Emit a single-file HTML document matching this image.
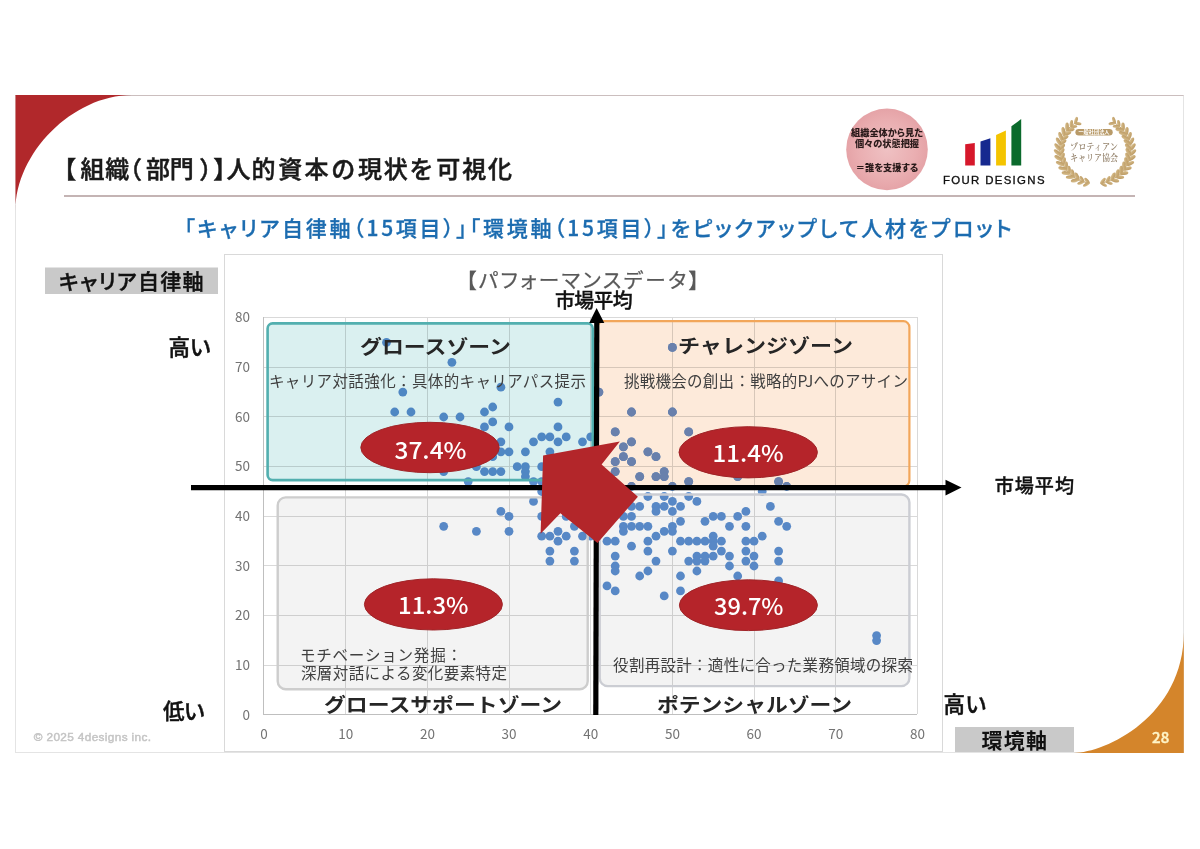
<!DOCTYPE html>
<html lang="ja"><head><meta charset="utf-8">
<style>
html,body{margin:0;padding:0;background:#fff;}
body{width:1200px;height:849px;overflow:hidden;position:relative;}
svg{position:absolute;left:0;top:0;}
text{font-family:"Liberation Sans","Noto Sans CJK JP",sans-serif;}
.cjk{font-family:"Noto Sans CJK JP",sans-serif;font-feature-settings:"palt" 1;}
.nopalt{font-feature-settings:normal !important;}
.mul{mix-blend-mode:multiply;}
.tick text{font-family:"Noto Sans CJK JP",sans-serif;}
.lat{font-family:"Liberation Sans",sans-serif;}
.serif{font-family:"Noto Serif CJK JP",serif;}
</style></head>
<body>
<svg width="1200" height="849" viewBox="0 0 1200 849">
  <!-- slide -->
  <rect x="15.5" y="95.5" width="1168" height="657" fill="#fff" stroke="#e4e4e4" stroke-width="1"/>
  <line x1="15.5" y1="95.5" x2="1183.5" y2="95.5" stroke="#cbbebe" stroke-width="1.2"/>
  <path d="M15.5,95 L131.8,95 C72.3,95.3 15.5,153.3 15.5,210.4 Z" fill="#b1282b"/>
  <path d="M1183.8,632.3 C1183.8,716.4 1105.3,752.9 1073.9,752.9 L1183.8,752.9 Z" fill="#d4852b"/>
  <text id="t_pg" class="cjk" x="1152.00" y="743.00" font-size="15.00" font-weight="500" fill="#fff5c8" textLength="17.20" lengthAdjust="spacing" stroke="#fff5c8" stroke-width="0.4">28</text>

  <!-- title -->
  <text id="t_title" class="cjk nopalt" x="52.34 80.52 105.20 117.98 146.04 169.76 199.22 213.28 226.58 251.38 278.22 304.58 331.20 357.90 383.78 409.46 436.30 462.14 488.02" y="178" font-size="24" font-weight="500" fill="#1a1a1a" stroke="#1a1a1a" stroke-width="0.5">【組織（部門）】人的資本の現状を可視化</text>
  <line x1="64" y1="196" x2="1135" y2="196" stroke="#c4b4b4" stroke-width="2"/>

  <!-- header logos -->
  <defs>
    <radialGradient id="pk" cx="50%" cy="50%" r="50%">
      <stop offset="0" stop-color="#efc1c3"/>
      <stop offset="0.7" stop-color="#eaaeb1"/>
      <stop offset="1" stop-color="#e5a3a7"/>
    </radialGradient>
    <linearGradient id="gold" x1="0" y1="0" x2="0" y2="1">
      <stop offset="0" stop-color="#d8bf90"/>
      <stop offset="0.5" stop-color="#c9ab76"/>
      <stop offset="1" stop-color="#bd9c66"/>
    </linearGradient>
  </defs>
  <circle cx="887" cy="149.4" r="40.8" fill="url(#pk)"/>
  <g class="cjk" font-size="9.2" font-weight="900" fill="#2a1a1a" text-anchor="middle">
    <text x="887" y="135.6">組織全体から見た</text>
    <text x="887" y="146.8">個々の状態把握</text>
    <text x="887" y="171">＝誰を支援する</text>
  </g>
  <polygon points="965.2,144.3 974.8,143.1 974.8,165.6 965.2,165.6" fill="#d6182b"/>
  <polygon points="980.5,141.4 990.4,138.3 990.4,165.6 980.5,165.6" fill="#16298f"/>
  <polygon points="996.1,135.1 1005.9,130.6 1005.9,165.6 996.1,165.6" fill="#f4c400"/>
  <polygon points="1011.4,126.3 1021.2,119.1 1021.2,165.6 1011.4,165.6" fill="#0b6a2c"/>
  <text x="943" y="184.3" font-size="11.4" fill="#111" stroke="#111" stroke-width="0.35" textLength="101.5" lengthAdjust="spacing">FOUR DESIGNS</text>
  <g fill="url(#gold)">
<polyline points="1075.1,123.1 1073.4,124.3 1071.8,125.5 1070.3,126.8 1068.8,128.2 1067.4,129.7 1066.1,131.3 1065.0,132.9 1063.9,134.6 1062.9,136.3 1062.1,138.1 1061.4,140.0 1060.7,141.8 1060.3,143.8 1059.9,145.7 1059.6,147.6 1059.5,149.6 1059.5,151.5 1059.6,153.5 1059.9,155.4 1060.3,157.4 1060.8,159.3 1061.4,161.1 1062.1,163.0 1063.0,164.8 1064.0,166.5 1065.0,168.2 1066.2,169.8 1067.5,171.4 1068.9,172.8 1070.3,174.2 1071.9,175.6 1073.5,176.8 1075.3,177.9 1077.0,179.0 1078.9,179.9 1080.8,180.7 1082.7,181.5 1084.7,182.1 1086.8,182.6 1088.8,183.0" fill="none" stroke="#c2a26c" stroke-width="1"/>
<ellipse cx="1075.1" cy="123.1" rx="3.7" ry="1.6" transform="rotate(8.5 1075.1 123.1) translate(2.8 0)"/>
<ellipse cx="1075.1" cy="123.1" rx="3.7" ry="1.6" transform="rotate(-71.5 1075.1 123.1) translate(2.8 0)"/>
<ellipse cx="1070.8" cy="126.4" rx="3.7" ry="1.6" transform="rotate(-0.4 1070.8 126.4) translate(2.8 0)"/>
<ellipse cx="1070.8" cy="126.4" rx="3.7" ry="1.6" transform="rotate(-80.4 1070.8 126.4) translate(2.8 0)"/>
<ellipse cx="1067.0" cy="130.2" rx="4.4" ry="1.9" transform="rotate(-9.5 1067.0 130.2) translate(3.3 0)"/>
<ellipse cx="1067.0" cy="130.2" rx="4.4" ry="1.9" transform="rotate(-89.5 1067.0 130.2) translate(3.3 0)"/>
<ellipse cx="1063.9" cy="134.6" rx="4.4" ry="1.9" transform="rotate(-18.8 1063.9 134.6) translate(3.3 0)"/>
<ellipse cx="1063.9" cy="134.6" rx="4.4" ry="1.9" transform="rotate(-98.8 1063.9 134.6) translate(3.3 0)"/>
<ellipse cx="1061.6" cy="139.4" rx="4.4" ry="1.9" transform="rotate(-28.3 1061.6 139.4) translate(3.3 0)"/>
<ellipse cx="1061.6" cy="139.4" rx="4.4" ry="1.9" transform="rotate(-108.3 1061.6 139.4) translate(3.3 0)"/>
<ellipse cx="1060.1" cy="144.4" rx="4.4" ry="1.9" transform="rotate(-37.9 1060.1 144.4) translate(3.3 0)"/>
<ellipse cx="1060.1" cy="144.4" rx="4.4" ry="1.9" transform="rotate(-117.9 1060.1 144.4) translate(3.3 0)"/>
<ellipse cx="1059.5" cy="149.6" rx="4.4" ry="1.9" transform="rotate(-47.7 1059.5 149.6) translate(3.3 0)"/>
<ellipse cx="1059.5" cy="149.6" rx="4.4" ry="1.9" transform="rotate(-127.7 1059.5 149.6) translate(3.3 0)"/>
<ellipse cx="1059.8" cy="154.8" rx="4.4" ry="1.9" transform="rotate(-57.4 1059.8 154.8) translate(3.3 0)"/>
<ellipse cx="1059.8" cy="154.8" rx="4.4" ry="1.9" transform="rotate(-137.4 1059.8 154.8) translate(3.3 0)"/>
<ellipse cx="1061.0" cy="159.9" rx="4.4" ry="1.9" transform="rotate(-67.1 1061.0 159.9) translate(3.3 0)"/>
<ellipse cx="1061.0" cy="159.9" rx="4.4" ry="1.9" transform="rotate(-147.1 1061.0 159.9) translate(3.3 0)"/>
<ellipse cx="1063.0" cy="164.8" rx="4.4" ry="1.9" transform="rotate(-76.7 1063.0 164.8) translate(3.3 0)"/>
<ellipse cx="1063.0" cy="164.8" rx="4.4" ry="1.9" transform="rotate(-156.7 1063.0 164.8) translate(3.3 0)"/>
<ellipse cx="1065.8" cy="169.3" rx="4.4" ry="1.9" transform="rotate(-86.1 1065.8 169.3) translate(3.3 0)"/>
<ellipse cx="1065.8" cy="169.3" rx="4.4" ry="1.9" transform="rotate(-166.1 1065.8 169.3) translate(3.3 0)"/>
<ellipse cx="1069.3" cy="173.3" rx="4.4" ry="1.9" transform="rotate(-95.3 1069.3 173.3) translate(3.3 0)"/>
<ellipse cx="1069.3" cy="173.3" rx="4.4" ry="1.9" transform="rotate(-175.3 1069.3 173.3) translate(3.3 0)"/>
<ellipse cx="1073.5" cy="176.8" rx="4.4" ry="1.9" transform="rotate(-104.2 1073.5 176.8) translate(3.3 0)"/>
<ellipse cx="1073.5" cy="176.8" rx="4.4" ry="1.9" transform="rotate(-184.2 1073.5 176.8) translate(3.3 0)"/>
<ellipse cx="1078.3" cy="179.6" rx="4.4" ry="1.9" transform="rotate(-113.0 1078.3 179.6) translate(3.3 0)"/>
<ellipse cx="1078.3" cy="179.6" rx="4.4" ry="1.9" transform="rotate(-193.0 1078.3 179.6) translate(3.3 0)"/>
<ellipse cx="1083.4" cy="181.7" rx="3.7" ry="1.6" transform="rotate(-121.6 1083.4 181.7) translate(2.8 0)"/>
<ellipse cx="1083.4" cy="181.7" rx="3.7" ry="1.6" transform="rotate(-201.6 1083.4 181.7) translate(2.8 0)"/>
<ellipse cx="1088.8" cy="183.0" rx="3.7" ry="1.6" transform="rotate(-130.2 1088.8 183.0) translate(2.8 0)"/>
<ellipse cx="1088.8" cy="183.0" rx="3.7" ry="1.6" transform="rotate(-210.2 1088.8 183.0) translate(2.8 0)"/>
<polyline points="1114.9,123.1 1116.6,124.3 1118.2,125.5 1119.7,126.8 1121.2,128.2 1122.6,129.7 1123.9,131.3 1125.0,132.9 1126.1,134.6 1127.1,136.3 1127.9,138.1 1128.6,140.0 1129.3,141.8 1129.7,143.8 1130.1,145.7 1130.4,147.6 1130.5,149.6 1130.5,151.5 1130.4,153.5 1130.1,155.4 1129.7,157.4 1129.2,159.3 1128.6,161.1 1127.9,163.0 1127.0,164.8 1126.0,166.5 1125.0,168.2 1123.8,169.8 1122.5,171.4 1121.1,172.8 1119.7,174.2 1118.1,175.6 1116.5,176.8 1114.7,177.9 1113.0,179.0 1111.1,179.9 1109.2,180.7 1107.3,181.5 1105.3,182.1 1103.2,182.6 1101.2,183.0" fill="none" stroke="#c2a26c" stroke-width="1"/>
<ellipse cx="1114.9" cy="123.1" rx="3.7" ry="1.6" transform="rotate(-108.5 1114.9 123.1) translate(2.8 0)"/>
<ellipse cx="1114.9" cy="123.1" rx="3.7" ry="1.6" transform="rotate(-188.5 1114.9 123.1) translate(2.8 0)"/>
<ellipse cx="1119.2" cy="126.4" rx="3.7" ry="1.6" transform="rotate(-99.6 1119.2 126.4) translate(2.8 0)"/>
<ellipse cx="1119.2" cy="126.4" rx="3.7" ry="1.6" transform="rotate(-179.6 1119.2 126.4) translate(2.8 0)"/>
<ellipse cx="1123.0" cy="130.2" rx="4.4" ry="1.9" transform="rotate(-90.5 1123.0 130.2) translate(3.3 0)"/>
<ellipse cx="1123.0" cy="130.2" rx="4.4" ry="1.9" transform="rotate(-170.5 1123.0 130.2) translate(3.3 0)"/>
<ellipse cx="1126.1" cy="134.6" rx="4.4" ry="1.9" transform="rotate(-81.2 1126.1 134.6) translate(3.3 0)"/>
<ellipse cx="1126.1" cy="134.6" rx="4.4" ry="1.9" transform="rotate(-161.2 1126.1 134.6) translate(3.3 0)"/>
<ellipse cx="1128.4" cy="139.4" rx="4.4" ry="1.9" transform="rotate(-71.7 1128.4 139.4) translate(3.3 0)"/>
<ellipse cx="1128.4" cy="139.4" rx="4.4" ry="1.9" transform="rotate(-151.7 1128.4 139.4) translate(3.3 0)"/>
<ellipse cx="1129.9" cy="144.4" rx="4.4" ry="1.9" transform="rotate(-62.1 1129.9 144.4) translate(3.3 0)"/>
<ellipse cx="1129.9" cy="144.4" rx="4.4" ry="1.9" transform="rotate(-142.1 1129.9 144.4) translate(3.3 0)"/>
<ellipse cx="1130.5" cy="149.6" rx="4.4" ry="1.9" transform="rotate(-52.3 1130.5 149.6) translate(3.3 0)"/>
<ellipse cx="1130.5" cy="149.6" rx="4.4" ry="1.9" transform="rotate(-132.3 1130.5 149.6) translate(3.3 0)"/>
<ellipse cx="1130.2" cy="154.8" rx="4.4" ry="1.9" transform="rotate(-42.6 1130.2 154.8) translate(3.3 0)"/>
<ellipse cx="1130.2" cy="154.8" rx="4.4" ry="1.9" transform="rotate(-122.6 1130.2 154.8) translate(3.3 0)"/>
<ellipse cx="1129.0" cy="159.9" rx="4.4" ry="1.9" transform="rotate(-32.9 1129.0 159.9) translate(3.3 0)"/>
<ellipse cx="1129.0" cy="159.9" rx="4.4" ry="1.9" transform="rotate(-112.9 1129.0 159.9) translate(3.3 0)"/>
<ellipse cx="1127.0" cy="164.8" rx="4.4" ry="1.9" transform="rotate(-23.3 1127.0 164.8) translate(3.3 0)"/>
<ellipse cx="1127.0" cy="164.8" rx="4.4" ry="1.9" transform="rotate(-103.3 1127.0 164.8) translate(3.3 0)"/>
<ellipse cx="1124.2" cy="169.3" rx="4.4" ry="1.9" transform="rotate(-13.9 1124.2 169.3) translate(3.3 0)"/>
<ellipse cx="1124.2" cy="169.3" rx="4.4" ry="1.9" transform="rotate(-93.9 1124.2 169.3) translate(3.3 0)"/>
<ellipse cx="1120.7" cy="173.3" rx="4.4" ry="1.9" transform="rotate(-4.7 1120.7 173.3) translate(3.3 0)"/>
<ellipse cx="1120.7" cy="173.3" rx="4.4" ry="1.9" transform="rotate(-84.7 1120.7 173.3) translate(3.3 0)"/>
<ellipse cx="1116.5" cy="176.8" rx="4.4" ry="1.9" transform="rotate(4.2 1116.5 176.8) translate(3.3 0)"/>
<ellipse cx="1116.5" cy="176.8" rx="4.4" ry="1.9" transform="rotate(-75.8 1116.5 176.8) translate(3.3 0)"/>
<ellipse cx="1111.7" cy="179.6" rx="4.4" ry="1.9" transform="rotate(13.0 1111.7 179.6) translate(3.3 0)"/>
<ellipse cx="1111.7" cy="179.6" rx="4.4" ry="1.9" transform="rotate(-67.0 1111.7 179.6) translate(3.3 0)"/>
<ellipse cx="1106.6" cy="181.7" rx="3.7" ry="1.6" transform="rotate(21.6 1106.6 181.7) translate(2.8 0)"/>
<ellipse cx="1106.6" cy="181.7" rx="3.7" ry="1.6" transform="rotate(-58.4 1106.6 181.7) translate(2.8 0)"/>
<ellipse cx="1101.2" cy="183.0" rx="3.7" ry="1.6" transform="rotate(30.2 1101.2 183.0) translate(2.8 0)"/>
<ellipse cx="1101.2" cy="183.0" rx="3.7" ry="1.6" transform="rotate(-49.8 1101.2 183.0) translate(2.8 0)"/>
  </g>
  <rect x="1075.4" y="128.9" width="37.3" height="6.6" rx="3.3" fill="#b89a68"/>
  <text class="cjk" x="1094" y="134.3" font-size="5.2" fill="#fff" text-anchor="middle" font-weight="700">一般社団法人</text>
  <g class="serif" font-size="8.8" fill="#978670" text-anchor="middle" font-weight="600">
    <text class="serif" x="1094" y="149.6" textLength="48" lengthAdjust="spacingAndGlyphs">プロティアン</text>
    <text class="serif" x="1094" y="161.3" textLength="48" lengthAdjust="spacingAndGlyphs">キャリア協会</text>
  </g>

  <!-- subtitle -->
  <text id="t_sub" class="cjk" x="184.30" y="236.30" font-size="21.00" font-weight="500" fill="#1c6cb0" textLength="827.30" lengthAdjust="spacing" stroke="#1c6cb0" stroke-width="0.3">「キャリア自律軸（15項目）」「環境軸（15項目）」をピックアップして人材をプロット</text>

  <!-- chart frame -->
  <rect x="224.5" y="254.5" width="718" height="497" fill="#fff" stroke="#d9d9d9" stroke-width="1"/>
  <text id="t_ctitle" class="cjk" x="466.00" y="288.05" font-size="20.62" font-weight="400" fill="#595959" textLength="233.00" lengthAdjust="spacing" stroke="#595959" stroke-width="0.25">【パフォーマンスデータ】</text>

  <g stroke="#d9d9d9" stroke-width="1">
<line x1="345.5" y1="317" x2="345.5" y2="714"/>
<line x1="427.5" y1="317" x2="427.5" y2="714"/>
<line x1="509.5" y1="317" x2="509.5" y2="714"/>
<line x1="590.5" y1="317" x2="590.5" y2="714"/>
<line x1="672.5" y1="317" x2="672.5" y2="714"/>
<line x1="754.5" y1="317" x2="754.5" y2="714"/>
<line x1="835.5" y1="317" x2="835.5" y2="714"/>
<line x1="917.5" y1="317" x2="917.5" y2="714"/>
<line x1="264" y1="665.5" x2="917" y2="665.5"/>
<line x1="264" y1="615.5" x2="917" y2="615.5"/>
<line x1="264" y1="565.5" x2="917" y2="565.5"/>
<line x1="264" y1="516.5" x2="917" y2="516.5"/>
<line x1="264" y1="466.5" x2="917" y2="466.5"/>
<line x1="264" y1="416.5" x2="917" y2="416.5"/>
<line x1="264" y1="367.5" x2="917" y2="367.5"/>
<line x1="264" y1="317.5" x2="917" y2="317.5"/>
  </g>
  <line x1="263.5" y1="317" x2="263.5" y2="715" stroke="#bfbfbf"/>
  <line x1="264" y1="714.5" x2="917" y2="714.5" stroke="#bfbfbf"/>
  <g class="tick" font-size="13.5" fill="#737373" text-anchor="end">
<text x="250" y="719.7">0</text>
<text x="250" y="670.0">10</text>
<text x="250" y="620.3">20</text>
<text x="250" y="570.6">30</text>
<text x="250" y="521.0">40</text>
<text x="250" y="471.3">50</text>
<text x="250" y="421.6">60</text>
<text x="250" y="371.9">70</text>
<text x="250" y="322.2">80</text>
  </g>
  <g class="tick" font-size="13.5" fill="#737373" text-anchor="middle">
<text x="264.0" y="738.5">0</text>
<text x="345.7" y="738.5">10</text>
<text x="427.4" y="738.5">20</text>
<text x="509.0" y="738.5">30</text>
<text x="590.7" y="738.5">40</text>
<text x="672.4" y="738.5">50</text>
<text x="754.0" y="738.5">60</text>
<text x="835.7" y="738.5">70</text>
<text x="917.4" y="738.5">80</text>
  </g>

  <!-- points -->
  <clipPath id="orclip"><rect x="596.4" y="320.1" width="314.1" height="167.5" rx="6"/></clipPath>
  <g fill="#5c8fd0">
<circle cx="386.5" cy="342.4" r="4.4"/>
<circle cx="451.9" cy="362.3" r="4.4"/>
<circle cx="402.8" cy="392.1" r="4.4"/>
<circle cx="500.9" cy="387.2" r="4.4"/>
<circle cx="394.7" cy="412.0" r="4.4"/>
<circle cx="411.0" cy="412.0" r="4.4"/>
<circle cx="443.7" cy="417.0" r="4.4"/>
<circle cx="460.0" cy="417.0" r="4.4"/>
<circle cx="484.5" cy="412.0" r="4.4"/>
<circle cx="492.7" cy="407.0" r="4.4"/>
<circle cx="492.7" cy="421.9" r="4.4"/>
<circle cx="672.4" cy="347.4" r="4.4"/>
<circle cx="598.9" cy="392.1" r="4.4"/>
<circle cx="558.0" cy="402.1" r="4.4"/>
<circle cx="631.5" cy="412.0" r="4.4"/>
<circle cx="672.4" cy="412.0" r="4.4"/>
<circle cx="484.5" cy="426.9" r="4.4"/>
<circle cx="509.0" cy="426.9" r="4.4"/>
<circle cx="500.9" cy="441.8" r="4.4"/>
<circle cx="500.9" cy="451.8" r="4.4"/>
<circle cx="509.0" cy="451.8" r="4.4"/>
<circle cx="492.7" cy="456.7" r="4.4"/>
<circle cx="517.2" cy="466.7" r="4.4"/>
<circle cx="476.4" cy="466.7" r="4.4"/>
<circle cx="484.5" cy="471.6" r="4.4"/>
<circle cx="492.7" cy="471.6" r="4.4"/>
<circle cx="500.9" cy="471.6" r="4.4"/>
<circle cx="443.7" cy="471.6" r="4.4"/>
<circle cx="468.2" cy="481.6" r="4.4"/>
<circle cx="500.9" cy="511.4" r="4.4"/>
<circle cx="509.0" cy="516.4" r="4.4"/>
<circle cx="443.7" cy="526.3" r="4.4"/>
<circle cx="558.0" cy="426.9" r="4.4"/>
<circle cx="533.5" cy="441.8" r="4.4"/>
<circle cx="541.7" cy="436.9" r="4.4"/>
<circle cx="549.9" cy="436.9" r="4.4"/>
<circle cx="558.0" cy="441.8" r="4.4"/>
<circle cx="566.2" cy="436.9" r="4.4"/>
<circle cx="582.5" cy="441.8" r="4.4"/>
<circle cx="590.7" cy="436.9" r="4.4"/>
<circle cx="525.4" cy="451.8" r="4.4"/>
<circle cx="549.9" cy="451.8" r="4.4"/>
<circle cx="525.4" cy="466.7" r="4.4"/>
<circle cx="525.4" cy="471.6" r="4.4"/>
<circle cx="525.4" cy="476.6" r="4.4"/>
<circle cx="541.7" cy="466.7" r="4.4"/>
<circle cx="533.5" cy="481.6" r="4.4"/>
<circle cx="541.7" cy="481.6" r="4.4"/>
<circle cx="615.2" cy="431.9" r="4.4"/>
<circle cx="631.5" cy="441.8" r="4.4"/>
<circle cx="623.4" cy="446.8" r="4.4"/>
<circle cx="647.9" cy="451.8" r="4.4"/>
<circle cx="656.0" cy="456.7" r="4.4"/>
<circle cx="623.4" cy="456.7" r="4.4"/>
<circle cx="615.2" cy="461.7" r="4.4"/>
<circle cx="631.5" cy="461.7" r="4.4"/>
<circle cx="615.2" cy="471.6" r="4.4"/>
<circle cx="639.7" cy="476.6" r="4.4"/>
<circle cx="656.0" cy="476.6" r="4.4"/>
<circle cx="664.2" cy="471.6" r="4.4"/>
<circle cx="664.2" cy="476.6" r="4.4"/>
<circle cx="533.5" cy="501.4" r="4.4"/>
<circle cx="541.7" cy="491.5" r="4.4"/>
<circle cx="541.7" cy="516.4" r="4.4"/>
<circle cx="647.9" cy="496.5" r="4.4"/>
<circle cx="664.2" cy="496.5" r="4.4"/>
<circle cx="672.4" cy="501.4" r="4.4"/>
<circle cx="639.7" cy="506.4" r="4.4"/>
<circle cx="656.0" cy="506.4" r="4.4"/>
<circle cx="664.2" cy="506.4" r="4.4"/>
<circle cx="656.0" cy="511.4" r="4.4"/>
<circle cx="672.4" cy="511.4" r="4.4"/>
<circle cx="631.5" cy="516.4" r="4.4"/>
<circle cx="680.5" cy="506.4" r="4.4"/>
<circle cx="566.2" cy="516.4" r="4.4"/>
<circle cx="631.5" cy="486.5" r="4.4"/>
<circle cx="672.4" cy="486.5" r="4.4"/>
<circle cx="688.7" cy="431.9" r="4.4"/>
<circle cx="688.7" cy="481.6" r="4.4"/>
<circle cx="737.7" cy="476.6" r="4.4"/>
<circle cx="778.6" cy="481.6" r="4.4"/>
<circle cx="786.7" cy="486.5" r="4.4"/>
<circle cx="688.7" cy="496.5" r="4.4"/>
<circle cx="696.9" cy="501.4" r="4.4"/>
<circle cx="680.5" cy="521.3" r="4.4"/>
<circle cx="705.0" cy="521.3" r="4.4"/>
<circle cx="713.2" cy="516.4" r="4.4"/>
<circle cx="721.4" cy="516.4" r="4.4"/>
<circle cx="737.7" cy="516.4" r="4.4"/>
<circle cx="745.9" cy="511.4" r="4.4"/>
<circle cx="770.4" cy="506.4" r="4.4"/>
<circle cx="778.6" cy="521.3" r="4.4"/>
<circle cx="762.2" cy="491.5" r="4.4"/>
<circle cx="476.4" cy="531.3" r="4.4"/>
<circle cx="509.0" cy="531.3" r="4.4"/>
<circle cx="574.4" cy="526.3" r="4.4"/>
<circle cx="541.7" cy="536.2" r="4.4"/>
<circle cx="549.9" cy="536.2" r="4.4"/>
<circle cx="558.0" cy="531.3" r="4.4"/>
<circle cx="558.0" cy="541.2" r="4.4"/>
<circle cx="566.2" cy="536.2" r="4.4"/>
<circle cx="582.5" cy="536.2" r="4.4"/>
<circle cx="590.7" cy="536.2" r="4.4"/>
<circle cx="549.9" cy="551.1" r="4.4"/>
<circle cx="574.4" cy="551.1" r="4.4"/>
<circle cx="549.9" cy="561.1" r="4.4"/>
<circle cx="574.4" cy="561.1" r="4.4"/>
<circle cx="623.4" cy="516.4" r="4.4"/>
<circle cx="623.4" cy="526.3" r="4.4"/>
<circle cx="631.5" cy="526.3" r="4.4"/>
<circle cx="639.7" cy="526.3" r="4.4"/>
<circle cx="647.9" cy="526.3" r="4.4"/>
<circle cx="623.4" cy="531.3" r="4.4"/>
<circle cx="664.2" cy="531.3" r="4.4"/>
<circle cx="672.4" cy="526.3" r="4.4"/>
<circle cx="672.4" cy="531.3" r="4.4"/>
<circle cx="656.0" cy="536.2" r="4.4"/>
<circle cx="607.0" cy="541.2" r="4.4"/>
<circle cx="615.2" cy="541.2" r="4.4"/>
<circle cx="631.5" cy="546.2" r="4.4"/>
<circle cx="647.9" cy="541.2" r="4.4"/>
<circle cx="680.5" cy="541.2" r="4.4"/>
<circle cx="647.9" cy="551.1" r="4.4"/>
<circle cx="672.4" cy="551.1" r="4.4"/>
<circle cx="615.2" cy="556.1" r="4.4"/>
<circle cx="656.0" cy="561.1" r="4.4"/>
<circle cx="615.2" cy="566.0" r="4.4"/>
<circle cx="615.2" cy="571.0" r="4.4"/>
<circle cx="647.9" cy="571.0" r="4.4"/>
<circle cx="639.7" cy="576.0" r="4.4"/>
<circle cx="680.5" cy="576.0" r="4.4"/>
<circle cx="607.0" cy="585.9" r="4.4"/>
<circle cx="615.2" cy="590.9" r="4.4"/>
<circle cx="664.2" cy="595.9" r="4.4"/>
<circle cx="680.5" cy="590.9" r="4.4"/>
<circle cx="631.5" cy="506.4" r="4.4"/>
<circle cx="729.5" cy="526.3" r="4.4"/>
<circle cx="745.9" cy="526.3" r="4.4"/>
<circle cx="786.7" cy="526.3" r="4.4"/>
<circle cx="762.2" cy="536.2" r="4.4"/>
<circle cx="688.7" cy="541.2" r="4.4"/>
<circle cx="696.9" cy="541.2" r="4.4"/>
<circle cx="705.0" cy="541.2" r="4.4"/>
<circle cx="713.2" cy="536.2" r="4.4"/>
<circle cx="713.2" cy="541.2" r="4.4"/>
<circle cx="713.2" cy="546.2" r="4.4"/>
<circle cx="721.4" cy="541.2" r="4.4"/>
<circle cx="745.9" cy="541.2" r="4.4"/>
<circle cx="754.0" cy="541.2" r="4.4"/>
<circle cx="721.4" cy="551.1" r="4.4"/>
<circle cx="745.9" cy="551.1" r="4.4"/>
<circle cx="778.6" cy="551.1" r="4.4"/>
<circle cx="696.9" cy="556.1" r="4.4"/>
<circle cx="705.0" cy="556.1" r="4.4"/>
<circle cx="713.2" cy="556.1" r="4.4"/>
<circle cx="729.5" cy="556.1" r="4.4"/>
<circle cx="754.0" cy="556.1" r="4.4"/>
<circle cx="688.7" cy="561.1" r="4.4"/>
<circle cx="696.9" cy="561.1" r="4.4"/>
<circle cx="705.0" cy="561.1" r="4.4"/>
<circle cx="745.9" cy="561.1" r="4.4"/>
<circle cx="778.6" cy="561.1" r="4.4"/>
<circle cx="729.5" cy="566.0" r="4.4"/>
<circle cx="754.0" cy="566.0" r="4.4"/>
<circle cx="696.9" cy="571.0" r="4.4"/>
<circle cx="737.7" cy="576.0" r="4.4"/>
<circle cx="778.6" cy="580.9" r="4.4"/>
<circle cx="876.6" cy="635.6" r="4.4"/>
<circle cx="876.6" cy="640.6" r="4.4"/>
  </g>
  <g fill="#6a8bc9" clip-path="url(#orclip)">
<circle cx="386.5" cy="342.4" r="4.4"/>
<circle cx="451.9" cy="362.3" r="4.4"/>
<circle cx="402.8" cy="392.1" r="4.4"/>
<circle cx="500.9" cy="387.2" r="4.4"/>
<circle cx="394.7" cy="412.0" r="4.4"/>
<circle cx="411.0" cy="412.0" r="4.4"/>
<circle cx="443.7" cy="417.0" r="4.4"/>
<circle cx="460.0" cy="417.0" r="4.4"/>
<circle cx="484.5" cy="412.0" r="4.4"/>
<circle cx="492.7" cy="407.0" r="4.4"/>
<circle cx="492.7" cy="421.9" r="4.4"/>
<circle cx="672.4" cy="347.4" r="4.4"/>
<circle cx="598.9" cy="392.1" r="4.4"/>
<circle cx="558.0" cy="402.1" r="4.4"/>
<circle cx="631.5" cy="412.0" r="4.4"/>
<circle cx="672.4" cy="412.0" r="4.4"/>
<circle cx="484.5" cy="426.9" r="4.4"/>
<circle cx="509.0" cy="426.9" r="4.4"/>
<circle cx="500.9" cy="441.8" r="4.4"/>
<circle cx="500.9" cy="451.8" r="4.4"/>
<circle cx="509.0" cy="451.8" r="4.4"/>
<circle cx="492.7" cy="456.7" r="4.4"/>
<circle cx="517.2" cy="466.7" r="4.4"/>
<circle cx="476.4" cy="466.7" r="4.4"/>
<circle cx="484.5" cy="471.6" r="4.4"/>
<circle cx="492.7" cy="471.6" r="4.4"/>
<circle cx="500.9" cy="471.6" r="4.4"/>
<circle cx="443.7" cy="471.6" r="4.4"/>
<circle cx="468.2" cy="481.6" r="4.4"/>
<circle cx="500.9" cy="511.4" r="4.4"/>
<circle cx="509.0" cy="516.4" r="4.4"/>
<circle cx="443.7" cy="526.3" r="4.4"/>
<circle cx="558.0" cy="426.9" r="4.4"/>
<circle cx="533.5" cy="441.8" r="4.4"/>
<circle cx="541.7" cy="436.9" r="4.4"/>
<circle cx="549.9" cy="436.9" r="4.4"/>
<circle cx="558.0" cy="441.8" r="4.4"/>
<circle cx="566.2" cy="436.9" r="4.4"/>
<circle cx="582.5" cy="441.8" r="4.4"/>
<circle cx="590.7" cy="436.9" r="4.4"/>
<circle cx="525.4" cy="451.8" r="4.4"/>
<circle cx="549.9" cy="451.8" r="4.4"/>
<circle cx="525.4" cy="466.7" r="4.4"/>
<circle cx="525.4" cy="471.6" r="4.4"/>
<circle cx="525.4" cy="476.6" r="4.4"/>
<circle cx="541.7" cy="466.7" r="4.4"/>
<circle cx="533.5" cy="481.6" r="4.4"/>
<circle cx="541.7" cy="481.6" r="4.4"/>
<circle cx="615.2" cy="431.9" r="4.4"/>
<circle cx="631.5" cy="441.8" r="4.4"/>
<circle cx="623.4" cy="446.8" r="4.4"/>
<circle cx="647.9" cy="451.8" r="4.4"/>
<circle cx="656.0" cy="456.7" r="4.4"/>
<circle cx="623.4" cy="456.7" r="4.4"/>
<circle cx="615.2" cy="461.7" r="4.4"/>
<circle cx="631.5" cy="461.7" r="4.4"/>
<circle cx="615.2" cy="471.6" r="4.4"/>
<circle cx="639.7" cy="476.6" r="4.4"/>
<circle cx="656.0" cy="476.6" r="4.4"/>
<circle cx="664.2" cy="471.6" r="4.4"/>
<circle cx="664.2" cy="476.6" r="4.4"/>
<circle cx="533.5" cy="501.4" r="4.4"/>
<circle cx="541.7" cy="491.5" r="4.4"/>
<circle cx="541.7" cy="516.4" r="4.4"/>
<circle cx="647.9" cy="496.5" r="4.4"/>
<circle cx="664.2" cy="496.5" r="4.4"/>
<circle cx="672.4" cy="501.4" r="4.4"/>
<circle cx="639.7" cy="506.4" r="4.4"/>
<circle cx="656.0" cy="506.4" r="4.4"/>
<circle cx="664.2" cy="506.4" r="4.4"/>
<circle cx="656.0" cy="511.4" r="4.4"/>
<circle cx="672.4" cy="511.4" r="4.4"/>
<circle cx="631.5" cy="516.4" r="4.4"/>
<circle cx="680.5" cy="506.4" r="4.4"/>
<circle cx="566.2" cy="516.4" r="4.4"/>
<circle cx="631.5" cy="486.5" r="4.4"/>
<circle cx="672.4" cy="486.5" r="4.4"/>
<circle cx="688.7" cy="431.9" r="4.4"/>
<circle cx="688.7" cy="481.6" r="4.4"/>
<circle cx="737.7" cy="476.6" r="4.4"/>
<circle cx="778.6" cy="481.6" r="4.4"/>
<circle cx="786.7" cy="486.5" r="4.4"/>
<circle cx="688.7" cy="496.5" r="4.4"/>
<circle cx="696.9" cy="501.4" r="4.4"/>
<circle cx="680.5" cy="521.3" r="4.4"/>
<circle cx="705.0" cy="521.3" r="4.4"/>
<circle cx="713.2" cy="516.4" r="4.4"/>
<circle cx="721.4" cy="516.4" r="4.4"/>
<circle cx="737.7" cy="516.4" r="4.4"/>
<circle cx="745.9" cy="511.4" r="4.4"/>
<circle cx="770.4" cy="506.4" r="4.4"/>
<circle cx="778.6" cy="521.3" r="4.4"/>
<circle cx="762.2" cy="491.5" r="4.4"/>
<circle cx="476.4" cy="531.3" r="4.4"/>
<circle cx="509.0" cy="531.3" r="4.4"/>
<circle cx="574.4" cy="526.3" r="4.4"/>
<circle cx="541.7" cy="536.2" r="4.4"/>
<circle cx="549.9" cy="536.2" r="4.4"/>
<circle cx="558.0" cy="531.3" r="4.4"/>
<circle cx="558.0" cy="541.2" r="4.4"/>
<circle cx="566.2" cy="536.2" r="4.4"/>
<circle cx="582.5" cy="536.2" r="4.4"/>
<circle cx="590.7" cy="536.2" r="4.4"/>
<circle cx="549.9" cy="551.1" r="4.4"/>
<circle cx="574.4" cy="551.1" r="4.4"/>
<circle cx="549.9" cy="561.1" r="4.4"/>
<circle cx="574.4" cy="561.1" r="4.4"/>
<circle cx="623.4" cy="516.4" r="4.4"/>
<circle cx="623.4" cy="526.3" r="4.4"/>
<circle cx="631.5" cy="526.3" r="4.4"/>
<circle cx="639.7" cy="526.3" r="4.4"/>
<circle cx="647.9" cy="526.3" r="4.4"/>
<circle cx="623.4" cy="531.3" r="4.4"/>
<circle cx="664.2" cy="531.3" r="4.4"/>
<circle cx="672.4" cy="526.3" r="4.4"/>
<circle cx="672.4" cy="531.3" r="4.4"/>
<circle cx="656.0" cy="536.2" r="4.4"/>
<circle cx="607.0" cy="541.2" r="4.4"/>
<circle cx="615.2" cy="541.2" r="4.4"/>
<circle cx="631.5" cy="546.2" r="4.4"/>
<circle cx="647.9" cy="541.2" r="4.4"/>
<circle cx="680.5" cy="541.2" r="4.4"/>
<circle cx="647.9" cy="551.1" r="4.4"/>
<circle cx="672.4" cy="551.1" r="4.4"/>
<circle cx="615.2" cy="556.1" r="4.4"/>
<circle cx="656.0" cy="561.1" r="4.4"/>
<circle cx="615.2" cy="566.0" r="4.4"/>
<circle cx="615.2" cy="571.0" r="4.4"/>
<circle cx="647.9" cy="571.0" r="4.4"/>
<circle cx="639.7" cy="576.0" r="4.4"/>
<circle cx="680.5" cy="576.0" r="4.4"/>
<circle cx="607.0" cy="585.9" r="4.4"/>
<circle cx="615.2" cy="590.9" r="4.4"/>
<circle cx="664.2" cy="595.9" r="4.4"/>
<circle cx="680.5" cy="590.9" r="4.4"/>
<circle cx="631.5" cy="506.4" r="4.4"/>
<circle cx="729.5" cy="526.3" r="4.4"/>
<circle cx="745.9" cy="526.3" r="4.4"/>
<circle cx="786.7" cy="526.3" r="4.4"/>
<circle cx="762.2" cy="536.2" r="4.4"/>
<circle cx="688.7" cy="541.2" r="4.4"/>
<circle cx="696.9" cy="541.2" r="4.4"/>
<circle cx="705.0" cy="541.2" r="4.4"/>
<circle cx="713.2" cy="536.2" r="4.4"/>
<circle cx="713.2" cy="541.2" r="4.4"/>
<circle cx="713.2" cy="546.2" r="4.4"/>
<circle cx="721.4" cy="541.2" r="4.4"/>
<circle cx="745.9" cy="541.2" r="4.4"/>
<circle cx="754.0" cy="541.2" r="4.4"/>
<circle cx="721.4" cy="551.1" r="4.4"/>
<circle cx="745.9" cy="551.1" r="4.4"/>
<circle cx="778.6" cy="551.1" r="4.4"/>
<circle cx="696.9" cy="556.1" r="4.4"/>
<circle cx="705.0" cy="556.1" r="4.4"/>
<circle cx="713.2" cy="556.1" r="4.4"/>
<circle cx="729.5" cy="556.1" r="4.4"/>
<circle cx="754.0" cy="556.1" r="4.4"/>
<circle cx="688.7" cy="561.1" r="4.4"/>
<circle cx="696.9" cy="561.1" r="4.4"/>
<circle cx="705.0" cy="561.1" r="4.4"/>
<circle cx="745.9" cy="561.1" r="4.4"/>
<circle cx="778.6" cy="561.1" r="4.4"/>
<circle cx="729.5" cy="566.0" r="4.4"/>
<circle cx="754.0" cy="566.0" r="4.4"/>
<circle cx="696.9" cy="571.0" r="4.4"/>
<circle cx="737.7" cy="576.0" r="4.4"/>
<circle cx="778.6" cy="580.9" r="4.4"/>
<circle cx="876.6" cy="635.6" r="4.4"/>
<circle cx="876.6" cy="640.6" r="4.4"/>
  </g>

  <!-- zone boxes -->
  <g class="mul">
  <rect x="267.6" y="323.4" width="325.1" height="156.7" rx="5" fill="#daf0f0"/>
  <rect x="597.5" y="321.2" width="311.9" height="165.3" rx="6" fill="#fdeada"/>
  <rect x="277.7" y="497.4" width="310" height="191.9" rx="8" fill="#f3f3f3"/>
  <rect x="599.7" y="494.5" width="309.7" height="191.6" rx="8" fill="#f3f3f3"/>
  </g>
  <g fill="none" stroke-width="2">
  <rect x="267.6" y="323.4" width="325.1" height="156.7" rx="5" stroke="#52afaf" stroke-width="2.6"/>
  <rect x="597.5" y="321.2" width="311.9" height="165.3" rx="6" stroke="#f2a65a" stroke-width="2.2"/>
  <rect x="277.7" y="497.4" width="310" height="191.9" rx="8" stroke="#cdcdcd" stroke-width="2.4"/>
  <rect x="599.7" y="494.5" width="309.7" height="191.6" rx="8" stroke="#cbcdd3" stroke-width="2.4"/>
  </g>

  <!-- zone texts -->
<text id="t_z1" class="cjk nopalt" x="360.10" y="354.40" font-size="19.50" font-weight="700" fill="#262626" textLength="150.90" lengthAdjust="spacingAndGlyphs">グロースゾーン</text>
<text id="t_z2" class="cjk nopalt" x="678.00" y="353.40" font-size="19.50" font-weight="700" fill="#262626" textLength="175.10" lengthAdjust="spacingAndGlyphs">チャレンジゾーン</text>
<text id="t_z3" class="cjk nopalt" x="324.00" y="712.00" font-size="19.50" font-weight="700" fill="#262626" textLength="238.10" lengthAdjust="spacingAndGlyphs">グロースサポートゾーン</text>
<text id="t_z4" class="cjk nopalt" x="656.90" y="712.00" font-size="19.50" font-weight="700" fill="#262626" textLength="195.20" lengthAdjust="spacingAndGlyphs">ポテンシャルゾーン</text>
<text id="t_d1" class="cjk nopalt" x="268.90" y="387.45" font-size="15.50" font-weight="400" fill="#404040" textLength="317.10" lengthAdjust="spacing">キャリア対話強化：具体的キャリアパス提示</text>
<text id="t_d2" class="cjk nopalt" x="624.00" y="386.95" font-size="15.50" font-weight="400" fill="#404040" textLength="283.90" lengthAdjust="spacing">挑戦機会の創出：戦略的PJへのアサイン</text>
<text id="t_d3" class="cjk nopalt" x="299.90" y="660.65" font-size="15.50" font-weight="400" fill="#404040" textLength="162.10" lengthAdjust="spacing">モチベーション発掘：</text>
<text id="t_d4" class="cjk nopalt" x="300.90" y="678.95" font-size="15.50" font-weight="400" fill="#404040" textLength="206.10" lengthAdjust="spacing">深層対話による変化要素特定</text>
<text id="t_d5" class="cjk nopalt" x="613.10" y="670.65" font-size="15.50" font-weight="400" fill="#404040" textLength="299.80" lengthAdjust="spacing">役割再設計：適性に合った業務領域の探索</text>

  <!-- axes arrows -->
  <line x1="191" y1="487.6" x2="947" y2="487.6" stroke="#000" stroke-width="5.2"/>
  <polygon points="945.5,479.8 961.5,487.6 945.5,495.4" fill="#000"/>
  <line x1="595.8" y1="715" x2="596.8" y2="321" stroke="#000" stroke-width="5.2"/>
  <polygon points="589.2,323.1 596.6,308 604.3,323.1" fill="#000"/>

  <!-- ovals -->
  <g fill="#b5242a" stroke="#a02428" stroke-width="1">
    <ellipse cx="430" cy="447.5" rx="69.2" ry="25.2"/>
    <ellipse cx="748.2" cy="452.3" rx="69.2" ry="25.6"/>
    <ellipse cx="433.4" cy="604.4" rx="69" ry="25.6"/>
    <ellipse cx="748.4" cy="605.2" rx="69" ry="25.4"/>
  </g>
<text id="t_p1" class="cjk" x="394.50" y="458.95" font-size="23.30" font-weight="500" fill="#fff" textLength="72.00" lengthAdjust="spacingAndGlyphs">37.4%</text>
<text id="t_p2" class="cjk" x="712.50" y="462.45" font-size="23.30" font-weight="500" fill="#fff" textLength="71.00" lengthAdjust="spacingAndGlyphs">11.4%</text>
<text id="t_p3" class="cjk" x="398.00" y="614.40" font-size="23.30" font-weight="500" fill="#fff" textLength="70.50" lengthAdjust="spacingAndGlyphs">11.3%</text>
<text id="t_p4" class="cjk" x="714.00" y="615.10" font-size="23.30" font-weight="500" fill="#fff" textLength="69.50" lengthAdjust="spacingAndGlyphs">39.7%</text>

  <!-- big red arrow -->
  <polygon points="543.1,455.5 619.8,441.4 601.6,464.5 637.9,496.7 597.5,542.9 560.4,513.2 540.6,533.8" fill="#b3262a"/>

  <!-- axis labels -->
  <rect x="45" y="267.5" width="173" height="26.5" fill="#c9c9c9"/>
  <text id="t_cax" class="cjk" x="59.00" y="288.50" font-size="21.00" font-weight="500" fill="#111" textLength="144.50" lengthAdjust="spacing" stroke="#111" stroke-width="0.45">キャリア自律軸</text>
  <rect x="955" y="727" width="119" height="25" fill="#c9c9c9"/>
  <text id="t_env" class="cjk" x="981.50" y="747.50" font-size="21.00" font-weight="700" fill="#111" textLength="65.50" lengthAdjust="spacing">環境軸</text>
<text id="t_hi1" class="cjk" x="168.50" y="355.00" font-size="21.50" font-weight="500" fill="#111" textLength="42.00" lengthAdjust="spacing" stroke="#111" stroke-width="0.45">高い</text>
<text id="t_lo" class="cjk" x="163.00" y="718.50" font-size="21.50" font-weight="500" fill="#111" textLength="41.50" lengthAdjust="spacing" stroke="#111" stroke-width="0.45">低い</text>
<text id="t_hi2" class="cjk" x="943.50" y="711.50" font-size="21.50" font-weight="500" fill="#111" textLength="42.50" lengthAdjust="spacing" stroke="#111" stroke-width="0.45">高い</text>
<text id="t_mkt2" class="cjk" x="994.80" y="493.35" font-size="19.11" font-weight="500" fill="#111" textLength="79.20" lengthAdjust="spacing" stroke="#111" stroke-width="0.35">市場平均</text>
<text id="t_mkt1" class="cjk" x="555.00" y="308.40" font-size="19.97" font-weight="500" fill="#111" textLength="77.60" lengthAdjust="spacing" stroke="#111" stroke-width="0.35">市場平均</text>

  <!-- copyright -->
  <text id="t_copy" class="lat" x="33.75" y="740.55" font-size="11.80" font-weight="400" fill="#c4c4c4" textLength="117.25" lengthAdjust="spacing" stroke="#c4c4c4" stroke-width="0.45">© 2025 4designs inc.</text>
</svg>
</body></html>
